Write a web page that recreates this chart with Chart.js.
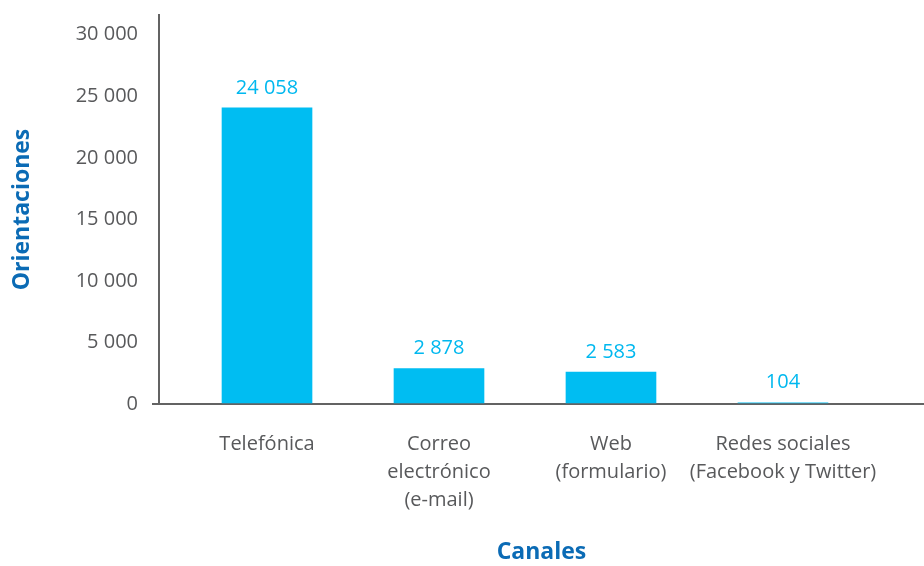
<!DOCTYPE html>
<html>
<head>
<meta charset="utf-8">
<script src="https://cdn.jsdelivr.net/npm/chart.js@4.4.0/dist/chart.umd.min.js"></script>
<style>
  html, body { margin: 0; padding: 0; background: #fff; }
  #wrap { width: 924px; height: 566px; }
</style>
</head>
<body>
<div id="wrap"><canvas id="canales"></canvas></div>
<script>
const canales = [
    ['Telefónica'],
    ['Correo', 'electrónico', '(e-mail)'],
    ['Web', '(formulario)'],
    ['Redes sociales', '(Facebook y Twitter)']
];
const orientaciones = [24058, 2878, 2583, 104];
const yTicks = [0, 5000, 10000, 15000, 20000, 25000, 30000];

const fontFamily = '"Open Sans", sans-serif';
const gris = '#58595b';
const ejeColor = '#636363';
const cian = '#00bdf2';
const azul = '#0b6bb5';

const fmt = v => String(v).replace(/\B(?=(\d{3})+(?!\d))/g, ' ');

// value above each bar
const etiquetas = {
    id: 'etiquetas',
    afterDatasetsDraw(chart) {
        const ctx = chart.ctx;
        const meta = chart.getDatasetMeta(0);
        ctx.save();
        ctx.fillStyle = '#00b8ef';
        ctx.font = '20px ' + fontFamily;
        ctx.textAlign = 'center';
        ctx.textBaseline = 'middle';
        meta.data.forEach((bar, i) => {
            ctx.fillText(fmt(orientaciones[i]), bar.x, bar.y - 20);
        });
        ctx.restore();
    }
};

new Chart(document.getElementById('canales'), {
    type: 'bar',
    data: {
        datasets: [{
            data: orientaciones.map((v, i) => ({ x: i, y: v })),
            backgroundColor: cian,
            borderWidth: 0,
            barThickness: 90
        }]
    },
    plugins: [etiquetas],
    options: {
        responsive: true,
        maintainAspectRatio: false,
        animation: false,
        layout: { padding: { top: 15, left: 0, right: 0, bottom: 0 } },
        plugins: {
            legend: { display: false },
            tooltip: { enabled: false }
        },
        scales: {
            x: {
                type: 'linear',
                offset: false,
                min: -0.628,
                max: 3.82,
                afterFit: s => { s.height = 162; s.paddingLeft = 0; s.paddingRight = 0; },
                afterBuildTicks: s => { s.ticks = canales.map((c, i) => ({ value: i })); },
                ticks: {
                    autoSkip: false,
                    maxRotation: 0,
                    padding: 26,
                    color: gris,
                    font: { family: fontFamily, size: 20, lineHeight: '28px' },
                    callback: v => canales[v] || ''
                },
                grid: { display: false, drawTicks: false },
                border: { display: true, color: ejeColor, width: 2 },
                title: {
                    display: true,
                    text: 'Canales',
                    color: azul,
                    padding: { top: 0, bottom: 0 },
                    font: { family: fontFamily, size: 23, weight: 'bold' }
                }
            },
            y: {
                min: 0,
                max: 31600,
                afterFit: s => { s.width = 159; s.paddingTop = 0; s.paddingBottom = 0; },
                afterBuildTicks: s => { s.ticks = yTicks.map(v => ({ value: v })); },
                ticks: {
                    padding: 14,
                    color: gris,
                    font: { family: fontFamily, size: 20 },
                    callback: v => fmt(v)
                },
                grid: {
                    display: true,
                    drawOnChartArea: false,
                    drawTicks: true,
                    tickLength: 7,
                    lineWidth: 2,
                    color: c => (c.tick && c.tick.value === 0 ? ejeColor : 'rgba(0,0,0,0)')
                },
                border: { display: true, color: ejeColor, width: 2 },
                title: {
                    display: true,
                    text: 'Orientaciones',
                    color: azul,
                    padding: { top: 9, bottom: 0 },
                    font: { family: fontFamily, size: 23, weight: 'bold' }
                }
            }
        }
    }
});
</script>
</body>
</html>
